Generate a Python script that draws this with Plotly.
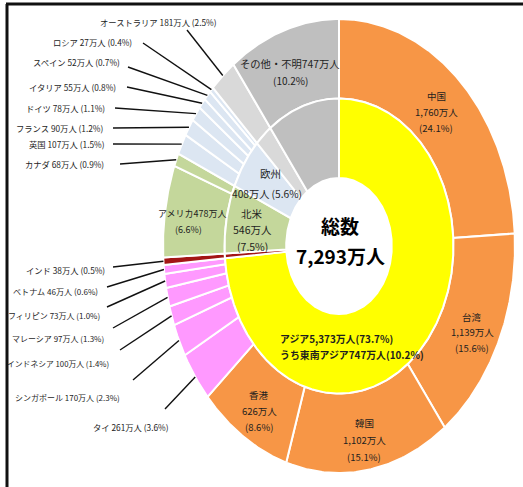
import numpy as np
import plotly.graph_objects as go

# ---------------- data ----------------
TOTAL = 7293
inner_names = ["アジア", "インド", "北米", "欧州", "オセアニア", "その他・不明"]
inner_values = [5373, 38, 546, 408, 181, 747]

outer_names = ["中国", "台湾", "韓国", "香港", "タイ", "シンガポール", "インドネシア",
               "マレーシア", "フィリピン", "ベトナム", "インド", "アメリカ", "カナダ",
               "英国", "フランス", "ドイツ", "イタリア", "スペイン", "ロシア",
               "オーストラリア", "その他・不明"]
outer_values = [1760, 1139, 1102, 626, 261, 170, 100, 97, 73, 46, 38, 478, 68,
                107, 90, 78, 55, 52, 27, 181, 747]
seasia_value = 747

# ---------------- styles ----------------
ORANGE, PINK, RED, GREEN, BLUE, LGRAY, GRAY = ("#F79646", "#FF99FF", "#A31515",
                                              "#C4D79B", "#DCE6F2", "#D9D9D9", "#BFBFBF")
inner_colors = ["#FFFF00", RED, GREEN, BLUE, LGRAY, GRAY]
outer_colors = [ORANGE] * 4 + [PINK] * 6 + [RED] + [GREEN] * 2 + [BLUE] * 6 + [LGRAY, GRAY]

W, H = 523, 487
CX, CY, RX, RY = 339, 246, 176, 227          # pixel centre / radii of the (stretched) ring
R_HOLE, R_MID, R_OUT = 0.30, 0.65, 1.0
FONT = "Noto Sans CJK JP"
TXT = "#1e1e1e"

def px(xp, yp):
    return (xp - CX) / RX, (CY - yp) / RY

def wedge(a0, a1, r0, r1):
    n = max(int(abs(a1 - a0) / 0.5) + 2, 3)
    th = np.radians(90 - np.linspace(a0, a1, n))
    xo, yo = r1 * np.cos(th), r1 * np.sin(th)
    xi, yi = r0 * np.cos(th[::-1]), r0 * np.sin(th[::-1])
    return np.concatenate([xo, xi, xo[:1]]), np.concatenate([yo, yi, yo[:1]])

def angles(vals):
    v = np.asarray(vals, float)
    c = np.concatenate([[0], np.cumsum(v)]) / v.sum() * 360
    return c[:-1], c[1:]

fig = go.Figure()

for vals, names, cols, r0, r1 in [(outer_values, outer_names, outer_colors, R_MID, R_OUT),
                                  (inner_values, inner_names, inner_colors, R_HOLE, R_MID)]:
    a0s, a1s = angles(vals)
    for a0, a1, nm, col in zip(a0s, a1s, names, cols):
        x, y = wedge(a0, a1, r0, r1)
        fig.add_trace(go.Scatter(x=x, y=y, mode="lines", fill="toself", fillcolor=col,
                                 line=dict(color="white", width=2), name=nm,
                                 hoverinfo="name", showlegend=False))

def pct(v):
    return f"({v / TOTAL * 100:.1f}%)"

def fmt(v):
    return f"{v:,}万人"

annotations = []

def add_text(text, xp, yp, size=9.5, bold=False, anchor="center", color=TXT):
    annotations.append(dict(x=xp / W, y=1 - yp / H, xref="paper", yref="paper",
                            text=text, showarrow=False, xanchor=anchor, yanchor="middle",
                            font=dict(family=FONT, size=size, color=color,
                                      weight="bold" if bold else "normal")))

# outer-ring external labels with leader lines:
# name -> (text right x, text y, leader start x, y, font size)
ext_layout = {
    "オーストラリア": (219, 22, 187, 30, 8.3),
    "ロシア": (134, 42, 143, 43, 8.3),
    "スペイン": (122, 62, 128, 67, 8.3),
    "イタリア": (118, 87, 127, 87, 8.3),
    "ドイツ": (107, 108, 115, 108, 8.3),
    "フランス": (106, 128, 113, 128, 8.3),
    "英国": (107, 144, 113, 144, 8.3),
    "カナダ": (106, 164, 120, 164, 8.3),
    "インド": (107, 270, 113, 267, 8.3),
    "ベトナム": (100, 291, 107, 287, 8.1),
    "フィリピン": (102, 315, 107, 307, 8.0),
    "マレーシア": (106, 338, 113, 328, 8.0),
    "インドネシア": (111, 363, 120, 350, 7.8),
    "シンガポール": (122, 397, 133, 380, 8.0),
    "タイ": (171, 427, 165, 409, 8.3),
}
a0s, a1s = angles(outer_values)
lx, ly = [], []
for nm, v, a0, a1 in zip(outer_names, outer_values, a0s, a1s):
    if nm not in ext_layout:
        continue
    tx, ty, sx, sy, fs = ext_layout[nm]
    add_text(f"{nm} {fmt(v)} {pct(v)}", tx, ty, size=fs, anchor="right")
    mid = np.radians(90 - (a0 + a1) / 2)
    x0, y0 = px(sx, sy)
    lx += [x0, R_OUT * np.cos(mid), None]
    ly += [y0, R_OUT * np.sin(mid), None]
fig.add_trace(go.Scatter(x=lx, y=ly, mode="lines", line=dict(color="#111111", width=1.4),
                         hoverinfo="skip", showlegend=False))

# labels inside the rings
ov = dict(zip(outer_names, outer_values))
for nm, xp, ys in [("中国", 436, (96, 112, 128)), ("台湾", 472, (317, 332, 348)),
                   ("韓国", 364, (423, 440, 457)), ("香港", 259, (395, 411, 427))]:
    add_text(nm, xp, ys[0])
    add_text(fmt(ov[nm]), xp, ys[1])
    add_text(pct(ov[nm]), xp, ys[2])

add_text(f"その他・不明{ov['その他・不明']}万人", 290, 64, size=10.3)
add_text(pct(ov["その他・不明"]), 290, 80, size=10)
add_text(f"アメリカ{ov['アメリカ']}万人", 192, 213, size=9)
add_text(pct(ov["アメリカ"]), 188, 229, size=9)

iv = dict(zip(inner_names, inner_values))
add_text("北米", 252, 213, size=10.5)
add_text(fmt(iv["北米"]), 252, 229, size=10.5)
add_text(pct(iv["北米"]), 252, 246, size=10.5)
add_text("欧州", 270, 173, size=10.5)
add_text(f"{fmt(iv['欧州'])} {pct(iv['欧州'])}", 267, 193, size=10.2)
add_text(f"アジア{fmt(iv['アジア'])}{pct(iv['アジア'])}", 278, 339, size=9.9, bold=True, anchor="left")
add_text(f"うち東南アジア{fmt(seasia_value)}{pct(seasia_value)}", 278, 355, size=9.9, bold=True, anchor="left")

add_text("総数", 340, 225, size=19, bold=True, color="#000000")
add_text(f"{TOTAL:,}万人", 340, 255, size=19, bold=True, color="#000000")

fig.update_layout(
    width=W, height=H, margin=dict(l=0, r=0, t=0, b=0),
    paper_bgcolor="white", plot_bgcolor="white",
    xaxis=dict(range=[-CX / RX, (W - CX) / RX], visible=False, fixedrange=True),
    yaxis=dict(range=[-(H - CY) / RY, CY / RY], visible=False, fixedrange=True),
    annotations=annotations,
    shapes=[
        dict(type="line", xref="paper", yref="paper", x0=6 / W, x1=1, y0=1 - 4 / H, y1=1 - 4 / H,
             line=dict(color="#111111", width=3)),
        dict(type="line", xref="paper", yref="paper", x0=7 / W, x1=7 / W, y0=0, y1=1 - 4 / H,
             line=dict(color="#111111", width=3)),
    ],
)

fig.write_html("out.html", config={"displayModeBar": False},
               post_script="document.body.style.margin='0';document.body.style.overflow='hidden';")
